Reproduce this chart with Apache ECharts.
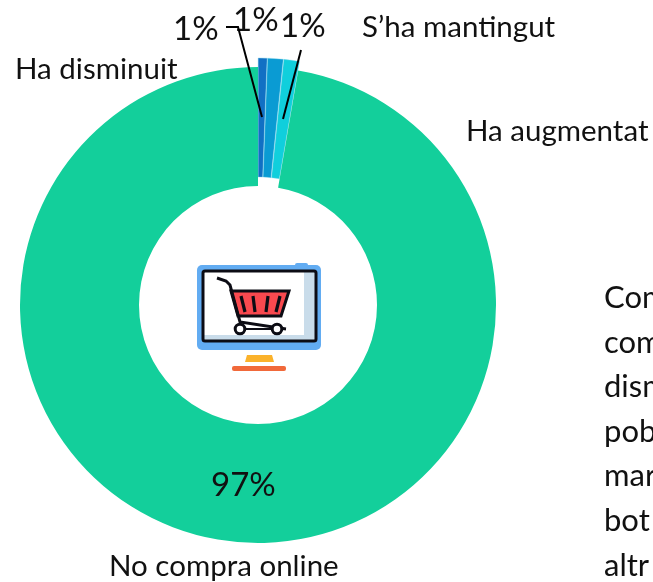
<!DOCTYPE html>
<html>
<head>
<meta charset="utf-8">
<style>
    html, body { margin: 0; padding: 0; background: #fff; overflow: hidden; }
    #main { width: 653px; height: 582px; }
</style>
<script src="https://cdn.jsdelivr.net/npm/echarts@6/dist/echarts.min.js"></script>
</head>
<body>
<div id="main"></div>
<script>
// dades de la grafica
var categories = ['Ha disminuit', 'S\u2019ha mantingut', 'Ha augmentat', 'No compra online'];
var values = [0.6, 1.05, 1.05, 97.3];
var valueLabels = ['1%', '1%', '1%', '97%'];
var colors = ['#1170C4', '#0A9BD3', '#10CFDC', '#13CF9B'];
var sideText = ['Com', 'com', 'dism', 'pob', 'mar', 'bot', 'altr'];

var myChart = echarts.init(document.getElementById('main'));
var FONT = 'Lato, "Open Sans", sans-serif';
var INK = '#0c0c14';

function txt(x, y, s, size) {
    return {
        type: 'text', z: 20, x: x, y: y,
        style: { text: s, font: size + 'px ' + FONT, fill: '#111', textAlign: 'left', textVerticalAlign: 'middle' }
    };
}
function leader(points) {
    return { type: 'polyline', z: 20, shape: { points: points }, style: { stroke: '#000', lineWidth: 2, fill: null } };
}
function stripe(x1, x2) {
    return { type: 'line', z: 14, shape: { x1: x1, y1: 296, x2: x2, y2: 312 }, style: { stroke: INK, lineWidth: 3.2 } };
}
function wheel(cx) {
    return { type: 'circle', z: 15, shape: { cx: cx, cy: 329, r: 4.8 }, style: { fill: '#fff', stroke: INK, lineWidth: 3 } };
}

// pie data: els tres petits van separats
var pieData = [];
values.forEach(function (v, i) {
    pieData.push({
        name: categories[i],
        value: v,
        selected: i < 3,
        itemStyle: { color: colors[i], borderColor: '#7fd4ea', borderWidth: i < 3 ? 0.4 : 0 }
    });
});

var graphics = [
    txt(15, 69, categories[0], 29.5),
    txt(362, 27, categories[1], 29.5),
    txt(466, 131, categories[2], 29.5),
    txt(109, 566, categories[3], 29.5),
    txt(173, 29, valueLabels[0], 33),
    txt(233, 20, valueLabels[1], 33),
    txt(280, 26, valueLabels[2], 33),
    txt(211, 485, valueLabels[3], 33),
    leader([[226, 27], [238, 27], [262, 117]]),
    leader([[301, 50], [283, 119]])
];
sideText.forEach(function (s, i) {
    graphics.push(txt(604, 298 + i * 44.6, s, 31));
});

// icona del centre: pantalla amb carro
graphics = graphics.concat([
    { type: 'rect', z: 10, shape: { x: 197, y: 265, width: 124, height: 85, r: 5 }, style: { fill: '#62ACF2' } },
    { type: 'rect', z: 10, shape: { x: 295, y: 263, width: 13, height: 5, r: 2 }, style: { fill: '#62ACF2' } },
    { type: 'rect', z: 11, shape: { x: 203, y: 271, width: 113, height: 70 }, style: { fill: '#fff' } },
    { type: 'rect', z: 11, shape: { x: 304, y: 272, width: 12, height: 68 }, style: { fill: '#C9DCEA' } },
    { type: 'rect', z: 11, shape: { x: 204, y: 335, width: 112, height: 6 }, style: { fill: '#C9DCEA' } },
    { type: 'rect', z: 12, shape: { x: 203, y: 271, width: 113, height: 70, r: 2 }, style: { fill: null, stroke: INK, lineWidth: 3 } },
    { type: 'polygon', z: 13, shape: { points: [[231, 291], [289, 291], [281, 316], [238, 316]] }, style: { fill: '#F9494F', stroke: INK, lineWidth: 3 } },
    { type: 'polyline', z: 13, shape: { points: [[217, 278], [226, 281], [230, 285], [240, 322], [286, 329]] }, style: { fill: null, stroke: INK, lineWidth: 3 } },
    stripe(241, 245),
    stripe(253, 255),
    stripe(268, 266),
    stripe(280, 276),
    { type: 'line', z: 14, shape: { x1: 240, y1: 329, x2: 286, y2: 329 }, style: { stroke: INK, lineWidth: 2 } },
    wheel(240),
    wheel(277),
    { type: 'polygon', z: 10, shape: { points: [[247, 355], [272, 355], [274, 362], [245, 362]] }, style: { fill: '#FBB22B' } },
    { type: 'rect', z: 10, shape: { x: 232, y: 366, width: 54, height: 5, r: 2 }, style: { fill: '#F1693A' } }
]);

var option = {
    animation: false,
    graphic: graphics,
    series: [
        {
            type: 'pie',
            center: [258, 305],
            radius: [119, 238],
            startAngle: 90,
            clockwise: true,
            minAngle: 0,
            avoidLabelOverlap: false,
            selectedMode: 'multiple',
            selectedOffset: 9,
            label: { show: false },
            labelLine: { show: false },
            emphasis: { disabled: true },
            data: pieData
        }
    ]
};
myChart.setOption(option);
window.addEventListener('resize', function () {
    myChart.resize();
});
</script>
</body>
</html>
